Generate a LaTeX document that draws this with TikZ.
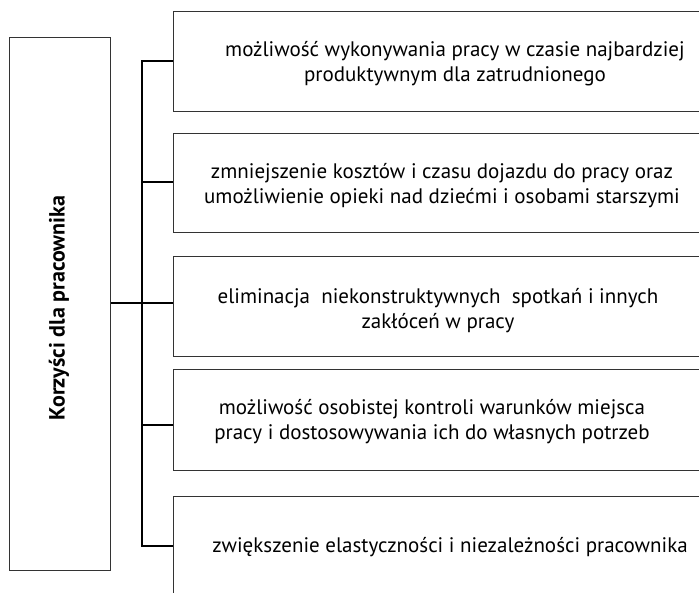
\documentclass[tikz,border=0pt]{standalone}
\usepackage{fontspec}
\setmainfont{PT Sans}
\begin{document}
\begin{tikzpicture}[x=1pt,y=-1pt,
  rbox/.style={draw=black!80, line width=1pt, minimum width=600pt, anchor=north west, inner sep=0pt, fill=white},
  lbox/.style={draw=black!80, line width=1pt, minimum width=101pt, minimum height=533pt, anchor=north west, inner sep=0pt},
  conn/.style={draw=black, line width=2.2pt},
  txt/.style={align=center, inner sep=0pt, font=\fontsize{21}{25}\selectfont},
  ttl/.style={rotate=90, inner sep=0pt, font=\bfseries\fontsize{22}{26}\selectfont}]
\useasboundingbox (0,0) rectangle (699,592);
\clip (0,0) rectangle (699,592);
\fill[white] (0,0) rectangle (699,592);
\node[lbox] (L) at (9,37) {};
\node[ttl] (T) at (59,308) {Korzyści dla pracownika};
\node[rbox, minimum height=100pt] (b1) at (173,11) {};
\node[rbox, minimum height=99pt] (b2) at (173,133) {};
\node[rbox, minimum height=100pt] (b3) at (173,256) {};
\node[rbox, minimum height=101pt] (b4) at (173,369) {};
\node[rbox, minimum height=100pt] (b5) at (173,496) {};
\node[txt] (t1) at (455,64) {możliwość wykonywania pracy w czasie najbardziej\\produktywnym dla zatrudnionego};
\node[txt] (t2) at (442,186) {zmniejszenie kosztów i czasu dojazdu do pracy oraz\\umożliwienie opieki nad dziećmi i osobami starszymi};
\node[txt] (t3) at (438,311) {eliminacja\ \ niekonstruktywnych\ \ spotkań i innych\\zakłóceń w pracy};
\node[txt] (t4) at (432,422) {możliwość osobistej kontroli warunków miejsca\\pracy i dostosowywania ich do własnych potrzeb};
\node[txt] (t5) at (450,547) {zwiększenie elastyczności i niezależności pracownika};
\coordinate (j1) at (142,61);
\coordinate (j2) at (142,182);
\coordinate (j3) at (142,303);
\coordinate (j4) at (142,425);
\coordinate (j5) at (142,546);
\draw[conn, line cap=rect] (j1) -- (j5);
\foreach \i in {1,...,5} {\draw[conn] (j\i) -- (j\i -| b\i.west);}
\draw[conn] (L.east |- j3) -- (j3);
\end{tikzpicture}
\end{document}
